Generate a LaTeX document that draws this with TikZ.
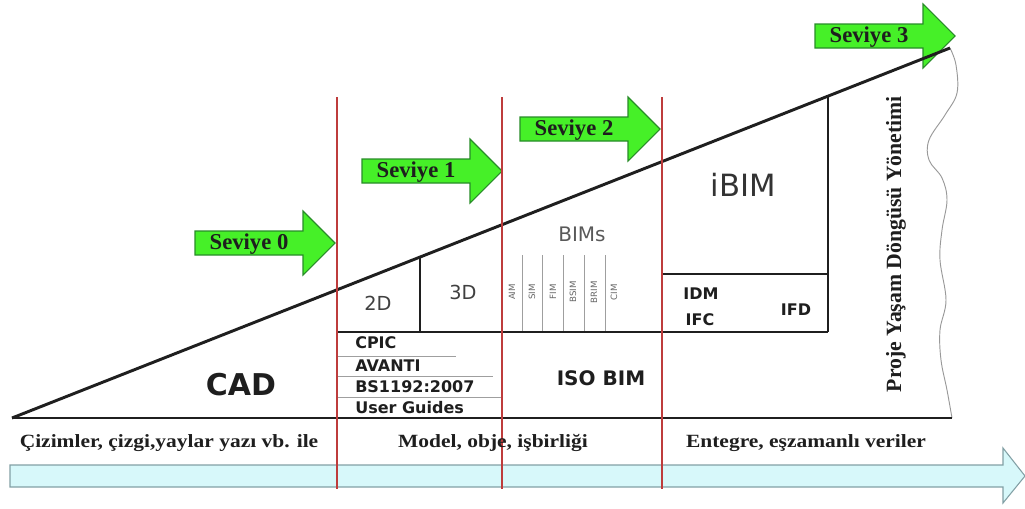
\documentclass[tikz,border=0pt]{standalone}
\usepackage{fontspec}
\setmainfont{Liberation Serif}
\newfontfamily\dvs{DejaVu Sans}
\newfontfamily\wserif[FakeStretch=1.15]{Liberation Serif}
\definecolor{redc}{RGB}{190,60,60}
\definecolor{grn}{RGB}{70,240,40}
\definecolor{grnd}{RGB}{40,140,40}
\definecolor{cyanf}{RGB}{215,248,250}
\definecolor{cyand}{RGB}{130,160,165}
\definecolor{txt}{RGB}{30,30,30}
\newcommand\sevarrow[4]{%
  \draw[garrow] (#2,#3-12) -- (#2+108,#3-12) -- (#2+108,#3-32) -- (#2+140,#3) -- (#2+108,#3+32) -- (#2+108,#3+12) -- (#2,#3+12) -- cycle;
  \node[sev] (#1) at (#2+54,#3+1) {#4};}
\tikzset{
  blk/.style={line width=2.2pt, draw=black!88},
  redl/.style={line width=1.6pt, draw=redc},
  thinl/.style={line width=0.7pt, draw=gray!75},
  garrow/.style={fill=grn, draw=grnd, line width=0.8pt, line join=miter},
  sev/.style={font=\bfseries\fontsize{17}{17}\selectfont, text=txt, inner sep=0pt},
  bot/.style={font=\wserif\bfseries\fontsize{14}{14}\selectfont, text=txt, inner sep=0pt},
  sbold/.style={font=\dvs\bfseries\fontsize{12}{12}\selectfont, text=txt, inner sep=0pt},
  sreg/.style={font=\dvs\fontsize{14.5}{14.5}\selectfont, text=black!75, inner sep=0pt},
  tiny/.style={font=\dvs\fontsize{6.5}{6.5}\selectfont, text=black!60, inner sep=0pt, rotate=90},
}
\begin{document}
\begin{tikzpicture}[x=0.75pt,y=-0.75pt]
\useasboundingbox (0,0) rectangle (1025,508);
% cyan timeline arrow
\draw[fill=cyanf, draw=cyand, line width=0.8pt] (10,465) -- (1003,465) -- (1003,448) -- (1025,476) -- (1003,503) -- (1003,487) -- (10,487) -- cycle;
% green arrows
\sevarrow{s0}{195}{243}{Seviye 0}
\sevarrow{s1}{362}{171}{Seviye 1}
\sevarrow{s2}{520}{129}{Seviye 2}
\sevarrow{s3}{815}{36}{Seviye 3}
% wavy right edge
\draw[line width=0.7pt, draw=gray!80] plot[smooth, tension=0.6] coordinates {(950,48) (956,65) (957,93) (945,115) (929,140) (929,160) (942,178) (947,200) (942,230) (940,260) (946,300) (940,330) (941,360) (947,390) (952,418)};
% thin grey lines
\foreach \x in {522,542,563,584,605} \draw[thinl] (\x,255) -- (\x,332);
\draw[thinl] (337,356) -- (456,356);
\draw[thinl] (337,376) -- (493,376);
\draw[thinl] (337,397) -- (502,397);
% triangle and inner boxes
\draw[blk] (12,418) -- (952,418);
\draw[blk] (12,418) -- (950,48);
\draw[blk] (337,332) -- (828,332);
\draw[blk] (420,257) -- (420,332);
\draw[blk] (828,95) -- (828,332);
\draw[blk] (662,274) -- (828,274);
% red separators
\foreach \x in {337,502,662} \draw[redl] (\x,97) -- (\x,489);
% labels
\node[font=\dvs\bfseries\fontsize{22.5}{22.5}\selectfont, text=txt, inner sep=0pt] (cad) at (241,385) {CAD};
\node[sreg] (d2) at (378,303) {2D};
\node[sreg] (d3) at (463,292) {3D};
\node[sreg, font=\dvs\fontsize{15}{15}\selectfont, text=black!65] (bims) at (582,234) {BIMs};
\node[tiny] (aim) at (512,292) {AIM};
\node[tiny] (sim) at (532,292) {SIM};
\node[tiny] (fim) at (553,292) {FIM};
\node[tiny] (bsim) at (573,292) {BSIM};
\node[tiny] (brim) at (594,292) {BRIM};
\node[tiny] (cim) at (614,292) {CIM};
\node[font=\dvs\fontsize{23}{23}\selectfont, text=black!80, inner sep=0pt] (ibim) at (743,185) {iBIM};
\node[sbold, anchor=west] (cpic) at (355,343) {CPIC};
\node[sbold, anchor=west] (avanti) at (355,366) {AVANTI};
\node[sbold, anchor=west] (bs) at (355,387) {BS1192:2007};
\node[sbold, anchor=west] (ug) at (355,408) {User Guides};
\node[sbold, font=\dvs\bfseries\fontsize{15}{15}\selectfont] (iso) at (601,378) {ISO BIM};
\node[sbold] (idm) at (701,294) {IDM};
\node[sbold] (ifc) at (700,320) {IFC};
\node[sbold] (ifd) at (796,310) {IFD};
\node[font=\bfseries\fontsize{16.3}{16.3}\selectfont, text=txt, inner sep=0pt, rotate=90] (plm) at (896,244) {Proje Yaşam Döngüsü Yönetimi};
\node[bot] (b1) at (169,443) {Çizimler, çizgi,yaylar yazı vb. ile};
\node[bot] (b2) at (493,443) {Model, obje, işbirliği};
\node[bot] (b3) at (806,443) {Entegre, eşzamanlı veriler};
\end{tikzpicture}
\end{document}
